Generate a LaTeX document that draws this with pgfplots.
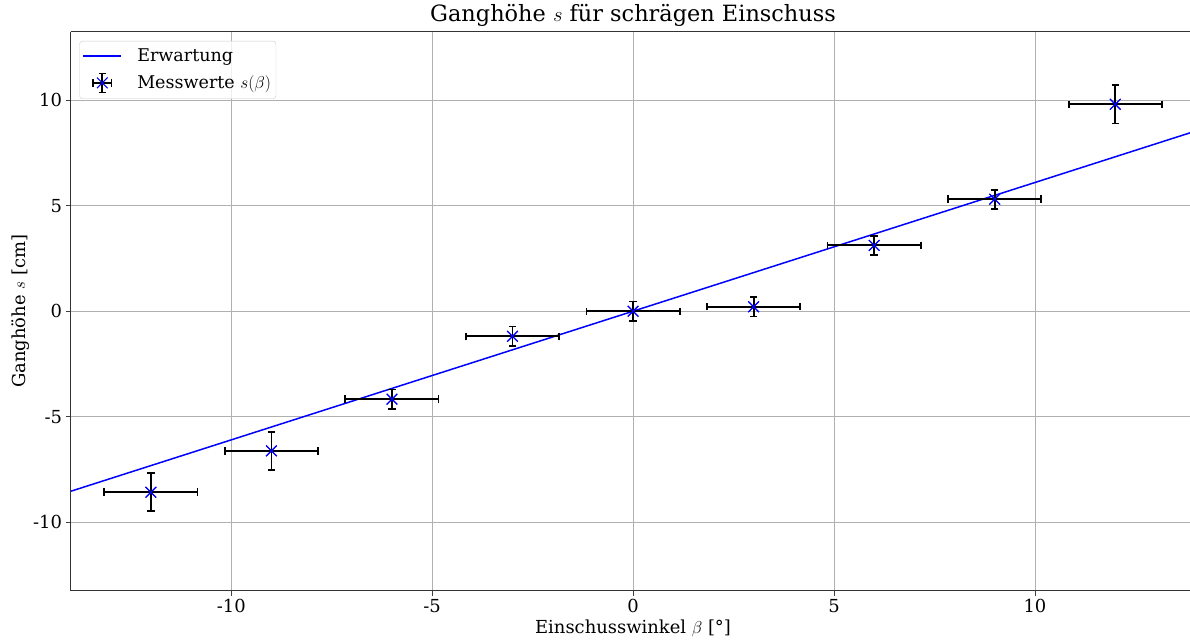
\documentclass[border=0pt]{standalone}
\usepackage{fontspec}
\setmainfont{DejaVu Serif}
\usepackage{pgfplots}
\pgfplotsset{compat=1.18}
\pgfplotstableread{
x   y     ex    ey
-12 -8.58 1.16 0.91
-9  -6.62 1.16 0.91
-6  -4.17 1.16 0.46
-3  -1.19 1.16 0.46
0   0.00  1.16 0.46
3   0.21  1.16 0.46
6   3.12  1.16 0.45
9   5.31  1.16 0.45
12  9.81  1.16 0.91
}\meas
\begin{document}
\begin{tikzpicture}
\begin{axis}[
  scale only axis, width=1119.5bp, height=559bp,
  xmin=-14, xmax=13.86, ymin=-13.25, ymax=13.25,
  clip=false,
  axis line style={draw=none},
  xtick={-10,-5,0,5,10}, ytick={-10,-5,0,5,10},
  xtick pos=left, ytick pos=left,
  tick align=outside,
  major tick length=5bp,
  tick style={black!75, line width=0.8bp},
  grid=major,
  major grid style={black!31, line width=0.8bp},
  /pgf/number format/assume math mode=true,
  ticklabel style={font=\fontsize{18}{21}\selectfont},
  title={Ganghöhe $s$ für schrägen Einschuss},
  title style={at={(0.5025,1)}, anchor=base, yshift=4bp, font=\fontsize{22.5}{26}\selectfont},
  xlabel={Einschusswinkel $\beta$ [°]},
  every axis x label/.style={at={(axis description cs:0.5025,0)}, anchor=base, yshift=-43bp, font=\fontsize{18}{21}\selectfont},
  ylabel={Ganghöhe $s$ [cm]},
  every axis y label/.style={at={(axis description cs:-0.0406,0.5)}, rotate=90, anchor=base, font=\fontsize{18}{21}\selectfont},
  legend style={at={(0.0079,0.9834)}, anchor=north west, draw=black!20, rounded corners=3bp,
    fill=white, fill opacity=0.8, text opacity=1, font=\fontsize{17.6}{21}\selectfont,
    inner xsep=3bp, inner ysep=5.5bp, row sep=7.6bp, cells={anchor=west}},
]
\addplot[blue, line width=1.5bp,
  legend image code/.code={\path[draw=none] (0bp,0bp) -- (52bp,0bp);\draw[blue, line width=1.5bp] (0bp,0bp) -- (38bp,0bp);}]
  coordinates {(-14,-8.54) (13.86,8.455)};
\addlegendentry{Erwartung}
\addplot[only marks, mark=x, mark size=7.5bp, mark options={blue, line width=1bp},
  legend image code/.code={
  \path[draw=none] (0bp,0bp) -- (52bp,0bp);
  \draw[black, line width=1.7bp] (9.8bp,0bp) -- (28.2bp,0bp);
  \draw[black, line width=1.7bp] (9.8bp,-3.7bp) -- (9.8bp,3.7bp);
  \draw[black, line width=1.7bp] (28.2bp,-3.7bp) -- (28.2bp,3.7bp);
  \draw[black, line width=1.7bp] (19bp,-9.5bp) -- (19bp,9.5bp);
  \draw[black, line width=1.7bp] (15.3bp,-9.5bp) -- (22.7bp,-9.5bp);
  \draw[black, line width=1.7bp] (15.3bp,9.5bp) -- (22.7bp,9.5bp);
  \draw[blue, line width=1bp] (13.7bp,-5.3bp) -- (24.3bp,5.3bp) (13.7bp,5.3bp) -- (24.3bp,-5.3bp);
  },
  error bars/.cd, x dir=both, x explicit, y dir=both, y explicit,
  error bar style={black, line width=1.8bp},
  error mark options={rotate=90, black, line width=1.8bp, mark size=3.7bp},
  ]
  table[x=x, y=y, x error=ex, y error=ey] {\meas};
\addlegendentry{Messwerte $s(\beta)$}
\addplot[forget plot, only marks, mark=x, mark size=7.5bp, mark options={blue, line width=1.1bp}]
  table[x=x, y=y] {\meas};
\coordinate (bl) at (rel axis cs:0,0);
\coordinate (tr) at (rel axis cs:1,1);
\draw[black!80, line width=0.8bp] (rel axis cs:0,1) -- (rel axis cs:0,0) -- (rel axis cs:1,0);
\draw[black!80, line width=0.8bp] (rel axis cs:0,1) -- (rel axis cs:1,1);
\end{axis}
\pgfresetboundingbox
\useasboundingbox ([shift={(-70.5bp,-51.3bp)}]bl) rectangle ([shift={(0bp,31.7bp)}]tr);
\end{tikzpicture}
\end{document}
